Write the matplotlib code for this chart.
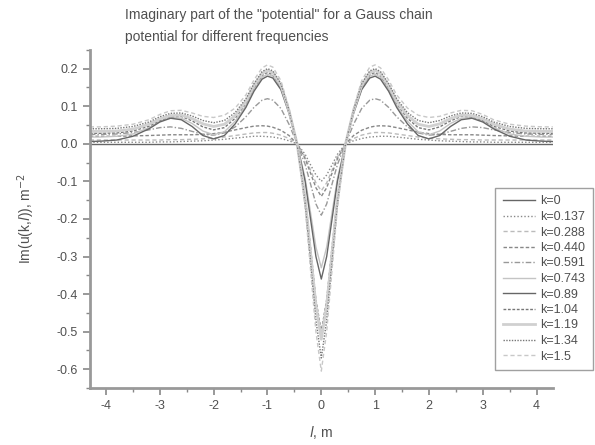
import numpy as np
import matplotlib
matplotlib.use("Agg")
import matplotlib.pyplot as plt

plt.rcParams['font.family'] = ['Liberation Sans', 'DejaVu Sans']
plt.rcParams['axes.unicode_minus'] = False

# positions along the chain, l (m)
l_vals = [-4.3, -4.1, -3.8, -3.5, -3.2, -3.0, -2.8, -2.6, -2.4, -2.2, -2.0, -1.8, -1.6, -1.4, -1.25, -1.1,
          -1.0, -0.9, -0.75, -0.6, -0.45, -0.3, -0.2, -0.1,
          0.0,
          0.1, 0.2, 0.3, 0.45, 0.6, 0.75, 0.9, 1.0,
          1.1, 1.25, 1.4, 1.6, 1.8, 2.0, 2.2, 2.4, 2.6, 2.8, 3.0, 3.2, 3.5, 3.8, 4.1, 4.3]

# Im(u(k,l)), one list per frequency
im_k0 = [0.0] * len(l_vals)
im_k0137 = [0.004, 0.004, 0.004, 0.004, 0.004, 0.005, 0.005, 0.006, 0.007, 0.008, 0.010, 0.012, 0.015, 0.018, 0.020, 0.020,
            0.019, 0.018, 0.014, 0.008, 0.0, -0.028, -0.056, -0.083,
            -0.100,
            -0.083, -0.056, -0.028, 0.0, 0.008, 0.014, 0.018, 0.019,
            0.020, 0.020, 0.018, 0.015, 0.012, 0.010, 0.008, 0.007, 0.006, 0.005, 0.005, 0.004, 0.004, 0.004, 0.004, 0.004]
im_k0288 = [0.010, 0.010, 0.010, 0.010, 0.010, 0.010, 0.011, 0.011, 0.012, 0.013, 0.015, 0.018, 0.022, 0.026, 0.029, 0.030,
            0.030, 0.028, 0.023, 0.014, 0.0, -0.035, -0.070, -0.104,
            -0.125,
            -0.104, -0.070, -0.035, 0.0, 0.014, 0.023, 0.028, 0.030,
            0.030, 0.029, 0.026, 0.022, 0.018, 0.015, 0.013, 0.012, 0.011, 0.011, 0.010, 0.010, 0.010, 0.010, 0.010, 0.010]
im_k0440 = [0.020, 0.020, 0.020, 0.021, 0.022, 0.023, 0.024, 0.024, 0.024, 0.025, 0.027, 0.031, 0.037, 0.043, 0.047, 0.048,
            0.047, 0.044, 0.036, 0.022, 0.0, -0.040, -0.078, -0.117,
            -0.140,
            -0.117, -0.078, -0.040, 0.0, 0.022, 0.036, 0.044, 0.047,
            0.048, 0.047, 0.043, 0.037, 0.031, 0.027, 0.025, 0.024, 0.024, 0.024, 0.023, 0.022, 0.021, 0.020, 0.020, 0.020]
im_k0591 = [0.025, 0.025, 0.026, 0.030, 0.037, 0.043, 0.045, 0.041, 0.033, 0.025, 0.023, 0.029, 0.045, 0.072, 0.097, 0.116,
            0.120, 0.116, 0.094, 0.052, 0.0, -0.055, -0.107, -0.160,
            -0.190,
            -0.160, -0.107, -0.055, 0.0, 0.052, 0.094, 0.116, 0.120,
            0.116, 0.097, 0.072, 0.045, 0.029, 0.023, 0.025, 0.033, 0.041, 0.045, 0.043, 0.037, 0.030, 0.026, 0.025, 0.025]
im_k0743 = [0.018, 0.018, 0.020, 0.026, 0.043, 0.060, 0.070, 0.068, 0.054, 0.034, 0.024, 0.032, 0.060, 0.102, 0.145, 0.177,
            0.185, 0.180, 0.148, 0.083, 0.0, -0.092, -0.183, -0.275,
            -0.330,
            -0.275, -0.183, -0.092, 0.0, 0.083, 0.148, 0.180, 0.185,
            0.177, 0.145, 0.102, 0.060, 0.032, 0.024, 0.034, 0.054, 0.068, 0.070, 0.060, 0.043, 0.026, 0.020, 0.018, 0.018]
im_k089 = [0.006, 0.007, 0.010, 0.020, 0.040, 0.058, 0.068, 0.064, 0.046, 0.022, 0.013, 0.022, 0.053, 0.097, 0.140, 0.172,
           0.180, 0.175, 0.144, 0.081, 0.0, -0.100, -0.200, -0.300,
           -0.360,
           -0.300, -0.200, -0.100, 0.0, 0.081, 0.144, 0.175, 0.180,
           0.172, 0.140, 0.097, 0.053, 0.022, 0.013, 0.022, 0.046, 0.064, 0.068, 0.058, 0.040, 0.020, 0.010, 0.007, 0.006]
im_k104 = [0.028, 0.028, 0.029, 0.034, 0.047, 0.062, 0.072, 0.073, 0.061, 0.045, 0.037, 0.043, 0.068, 0.108, 0.150, 0.182,
           0.190, 0.184, 0.152, 0.086, 0.0, -0.140, -0.275, -0.415,
           -0.500,
           -0.415, -0.275, -0.140, 0.0, 0.086, 0.152, 0.184, 0.190,
           0.182, 0.150, 0.108, 0.068, 0.043, 0.037, 0.045, 0.061, 0.073, 0.072, 0.062, 0.047, 0.034, 0.029, 0.028, 0.028]
im_k119 = [0.033, 0.033, 0.034, 0.039, 0.052, 0.066, 0.075, 0.076, 0.067, 0.053, 0.046, 0.052, 0.075, 0.113, 0.155, 0.187,
           0.195, 0.189, 0.156, 0.088, 0.0, -0.145, -0.290, -0.430,
           -0.520,
           -0.430, -0.290, -0.145, 0.0, 0.088, 0.156, 0.189, 0.195,
           0.187, 0.155, 0.113, 0.075, 0.052, 0.046, 0.053, 0.067, 0.076, 0.075, 0.066, 0.052, 0.039, 0.034, 0.033, 0.033]
im_k134 = [0.040, 0.040, 0.041, 0.046, 0.058, 0.072, 0.081, 0.082, 0.074, 0.062, 0.056, 0.062, 0.083, 0.120, 0.160, 0.192,
           0.200, 0.194, 0.160, 0.090, 0.0, -0.160, -0.315, -0.470,
           -0.570,
           -0.470, -0.315, -0.160, 0.0, 0.090, 0.160, 0.194, 0.200,
           0.192, 0.160, 0.120, 0.083, 0.062, 0.056, 0.062, 0.074, 0.082, 0.081, 0.072, 0.058, 0.046, 0.041, 0.040, 0.040]
im_k15 = [0.045, 0.045, 0.047, 0.052, 0.064, 0.078, 0.088, 0.089, 0.082, 0.073, 0.070, 0.076, 0.095, 0.130, 0.170, 0.202,
          0.210, 0.204, 0.168, 0.095, 0.0, -0.170, -0.335, -0.500,
          -0.605,
          -0.500, -0.335, -0.170, 0.0, 0.095, 0.168, 0.204, 0.210,
          0.202, 0.170, 0.130, 0.095, 0.076, 0.070, 0.073, 0.082, 0.089, 0.088, 0.078, 0.064, 0.052, 0.047, 0.045, 0.045]

k_labels = ['k=0', 'k=0.137', 'k=0.288', 'k=0.440', 'k=0.591', 'k=0.743',
            'k=0.89', 'k=1.04', 'k=1.19', 'k=1.34', 'k=1.5']
series = [im_k0, im_k0137, im_k0288, im_k0440, im_k0591, im_k0743,
          im_k089, im_k104, im_k119, im_k134, im_k15]

# line looks (grey shades, origin-ish dash patterns)
styles = [
    dict(ls='-', color='#666666', lw=1.0),
    dict(ls=(0, (1, 1.5)), color='#888888', lw=1.0),
    dict(ls=(0, (3, 2)), color='#bbbbbb', lw=1.0),
    dict(ls=(0, (2.5, 1.5)), color='#888888', lw=1.0),
    dict(ls=(0, (4, 1.5, 1, 1.5)), color='#999999', lw=1.0),
    dict(ls='-', color='#c4c4c4', lw=1.0),
    dict(ls='-', color='#666666', lw=1.0),
    dict(ls=(0, (2, 1.2)), color='#777777', lw=1.0),
    dict(ls='-', color='#d0d0d0', lw=2.0),
    dict(ls=(0, (1, 1)), color='#777777', lw=1.0),
    dict(ls=(0, (3, 2)), color='#c8c8c8', lw=1.0),
]

fig = plt.figure(figsize=(5.95, 4.45), dpi=100)
ax = fig.add_axes([0.151, 0.128, 0.778, 0.76])

for y, lab, st in zip(series, k_labels, styles):
    ax.plot(l_vals, y, label=lab, **st)

ax.set_xlim(-4.3, 4.3)
ax.set_ylim(-0.645, 0.25)
ax.set_xticks([-4, -3, -2, -1, 0, 1, 2, 3, 4])
ax.set_xticks(np.arange(-4, 4.01, 0.5), minor=True)
ax.set_yticks([-0.6, -0.5, -0.4, -0.3, -0.2, -0.1, 0.0, 0.1, 0.2])
ax.set_yticklabels(['-0.6', '-0.5', '-0.4', '-0.3', '-0.2', '-0.1', '0.0', '0.1', '0.2'])
ax.set_yticks(np.arange(-0.65, 0.251, 0.05), minor=True)

txt = '#505050'
for s in ['top', 'right']:
    ax.spines[s].set_visible(False)
for s in ['left', 'bottom']:
    ax.spines[s].set_color('#999999')
    ax.spines[s].set_linewidth(2.0)
ax.tick_params(which='major', direction='out', length=5, width=1.2, color='#888888',
               labelsize=9, labelcolor=txt)
ax.tick_params(which='minor', direction='out', length=3, width=1.0, color='#888888')

ax.set_xlabel('$l$, m', fontsize=10, color=txt, labelpad=9)
ax.set_ylabel('Im(u(k,$l$)), m$^{-2}$', fontsize=10, color=txt, labelpad=14)

fig.text(125 / 595, 1 - 15 / 445, 'Imaginary part of the "potential" for a Gauss chain',
         fontsize=10, color=txt, va='center', ha='left')
fig.text(125 / 595, 1 - 37 / 445, 'potential for different frequencies',
         fontsize=10, color=txt, va='center', ha='left')

leg = ax.legend(loc='lower left', bbox_to_anchor=(495 / 595, 1 - 370 / 445, 98 / 595, 210 / 445),
                bbox_transform=fig.transFigure, mode='expand', fontsize=9, frameon=True,
                fancybox=False, edgecolor='#888888', handlelength=2.6, handletextpad=0.4,
                labelspacing=0.28, borderaxespad=0.0, borderpad=0.6)
for t in leg.get_texts():
    t.set_color(txt)

fig.savefig('out.png', dpi=100)
